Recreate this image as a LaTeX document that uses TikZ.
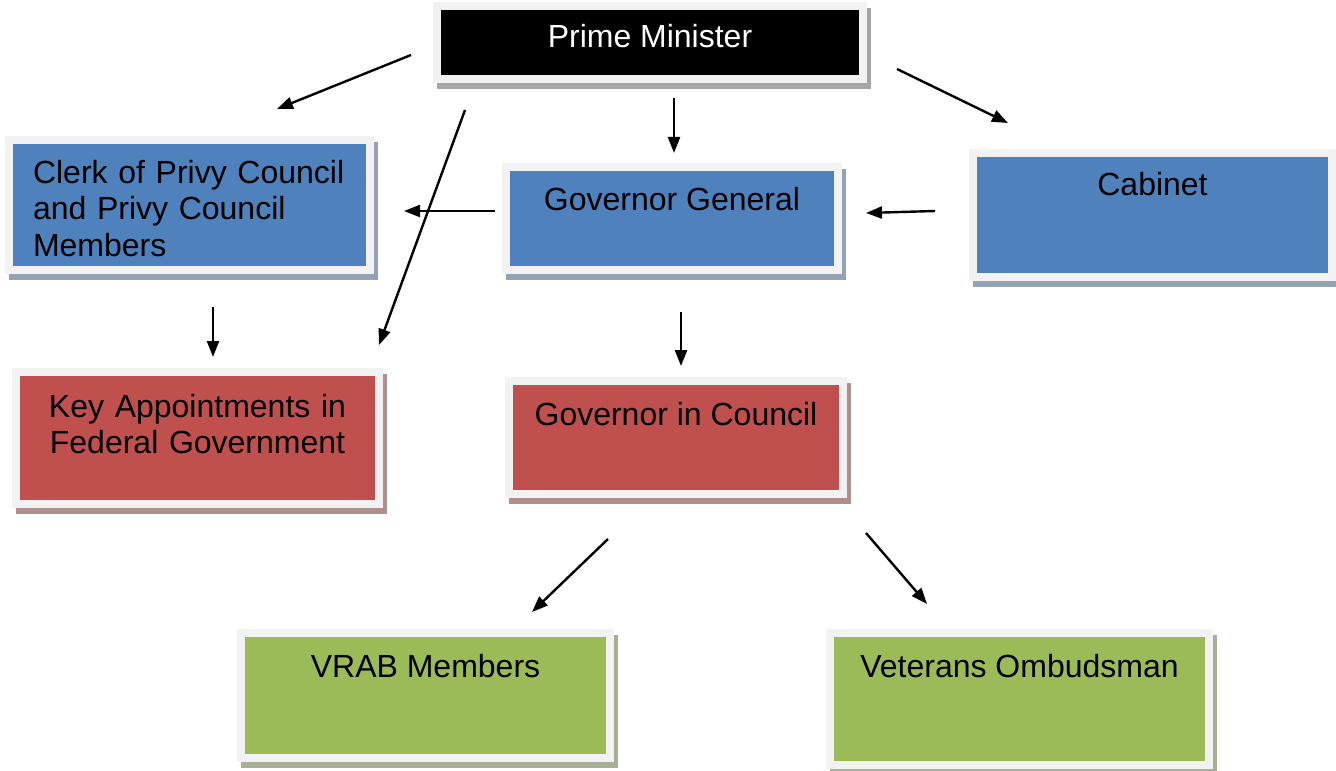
\documentclass[tikz,border=0pt]{standalone}
\usepackage{fontspec}
\setmainfont{Liberation Sans}
\usetikzlibrary{arrows.meta,calc}

\definecolor{framegray}{HTML}{F2F2F2}
\definecolor{pmshadow}{HTML}{A6A6A6}
\definecolor{bluebox}{HTML}{4F81BD}
\definecolor{blueshadow}{HTML}{95A1B4}
\definecolor{redbox}{HTML}{C0504D}
\definecolor{redshadow}{HTML}{B08E8E}
\definecolor{greenbox}{HTML}{9BBB59}
\definecolor{greenshadow}{HTML}{A7AF95}

\tikzset{
  orgbox/.style 2 args={draw=framegray, line width=4pt, fill=#1, inner sep=0pt,
    preaction={draw=#2, fill=#2, transform canvas={xshift=2pt,yshift=-3pt}},
    font=\fontsize{16}{18}\selectfont, text height=12pt},
  orgarrow/.style={-{Triangle[length=8pt,width=6pt]}, line width=1.2pt},
}

\begin{document}
\begin{tikzpicture}[x=0.5pt,y=-0.5pt]
    \useasboundingbox (0,0) rectangle (1336,770);
    % boxes
    \node[orgbox={black}{pmshadow}, minimum width=213pt, minimum height=36.5pt,
      text=white, text depth=6.5pt] (pm) at (650,42.5) {Prime Minister};
    \node[orgbox={bluebox}{blueshadow}, minimum width=180.5pt, minimum height=65pt,
      inner xsep=12pt, text width=156.5pt, align=left, text depth=33pt] (clerk) at (189.5,205)
      {Clerk of Privy Council\\and Privy Council\\Members};
    \node[orgbox={bluebox}{blueshadow}, minimum width=166pt, minimum height=51.5pt,
      text depth=19.5pt] (gg) at (672,218.5) {Governor General};
    \node[orgbox={bluebox}{blueshadow}, minimum width=179.5pt, minimum height=62pt,
      text depth=31pt] (cabinet) at (1152.5,215) {Cabinet};
    \node[orgbox={redbox}{redshadow}, minimum width=181.5pt, minimum height=66pt,
      inner xsep=10pt, text width=161.5pt, align=center, text depth=33pt] (keyapp) at (197.5,438)
      {Key Appointments in\\Federal Government};
    \node[orgbox={redbox}{redshadow}, minimum width=167pt, minimum height=56.5pt,
      text depth=24.5pt] (gic) at (676,437.5) {Governor in Council};
    \node[orgbox={greenbox}{greenshadow}, minimum width=184.5pt, minimum height=62.5pt,
      text depth=30.5pt] (vrab) at (425.5,695.5) {VRAB Members};
    \node[orgbox={greenbox}{greenshadow}, minimum width=189.5pt, minimum height=66pt,
      text depth=34pt] (ombud) at (1019.5,699) {Veterans Ombudsman};
    % arrows
    \draw[orgarrow] ($(pm.south west)+(-22,-28)$) -- ($(clerk.north east)+(-97,-27)$);
    \draw[orgarrow] ($(pm.south west)+(32,27)$) -- ($(keyapp.north east)+(-4,-23)$);
    \draw[orgarrow] ($(gg.north)+(2,-65)$) -- ($(gg.north)+(2,-10)$);
    \draw[orgarrow] ($(pm.east)+(30,26.5)$) -- ($(cabinet.north west)+(39,-26)$);
    \draw[orgarrow] ($(gg.west)+(-7,-7.5)$) -- ($(clerk.east)+(30,6)$);
    \draw[orgarrow] ($(cabinet.west)+(-34,-4)$) -- ($(gg.east)+(24,-5.5)$);
    \draw[orgarrow] ($(clerk.south)+(23.5,33)$) -- ($(keyapp.north)+(15.5,-11)$);
    \draw[orgarrow] ($(gg.south)+(9,38)$) -- ($(gic.north)+(5,-11)$);
    \draw[orgarrow] ($(gic.south)+(-68,41)$) -- ($(vrab.north)+(106.5,-17)$);
    \draw[orgarrow] ($(gic.south east)+(19,35)$) -- ($(ombud.north)+(-92.5,-25)$);
\end{tikzpicture}
\end{document}
